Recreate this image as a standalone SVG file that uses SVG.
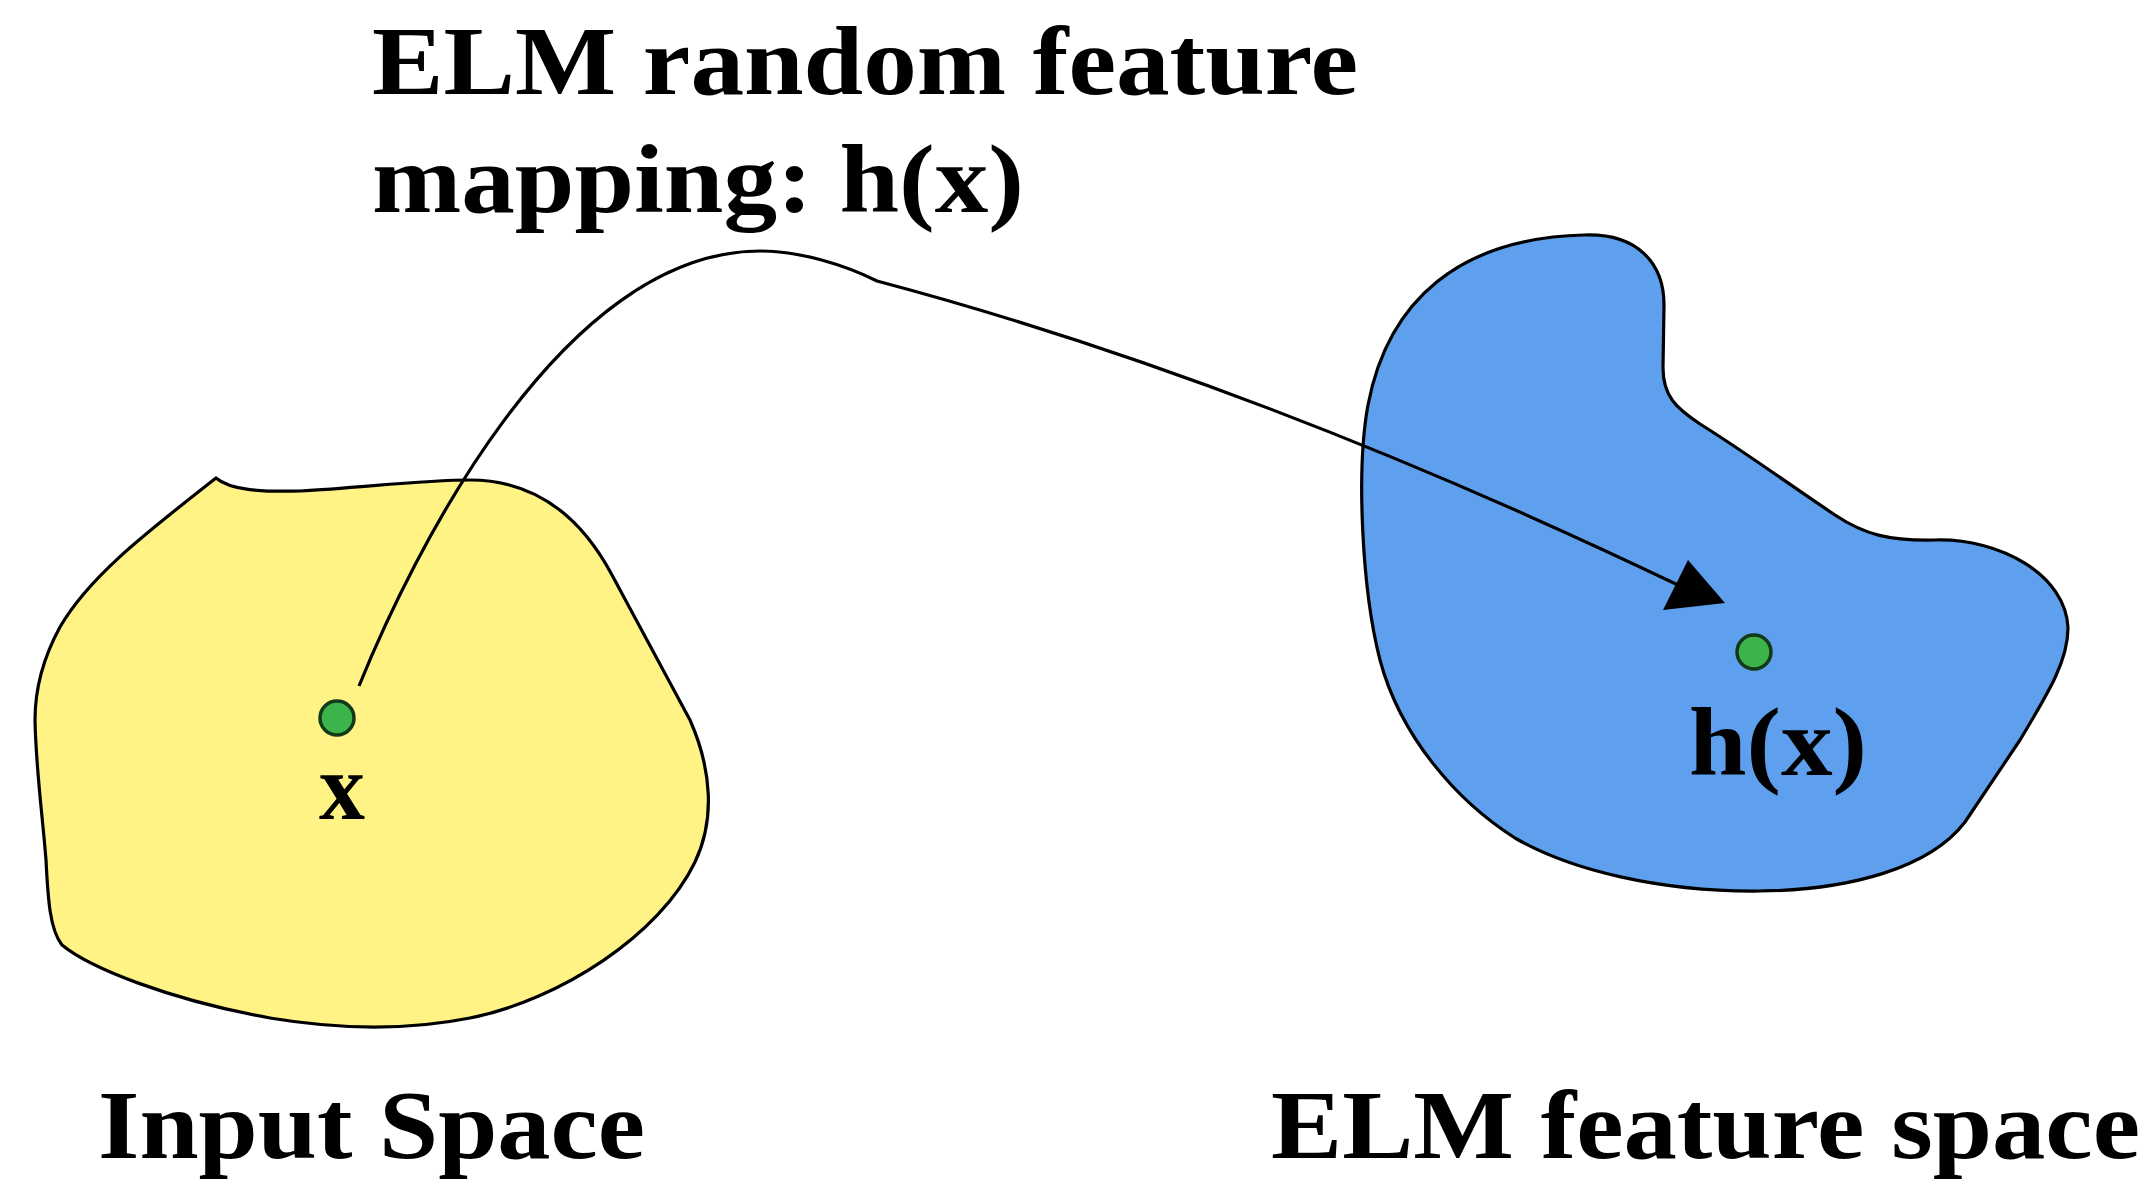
<svg xmlns="http://www.w3.org/2000/svg" width="2155" height="1198" viewBox="0 0 2155 1198">
<style>
.lbl{font-family:"Liberation Serif","Times New Roman",serif;font-weight:bold;fill:#000;}
.blob{stroke:#000;stroke-width:3.2;stroke-linejoin:round;}
.dot{fill:#3cb44b;stroke:#123a18;stroke-width:3.5;}
.conn{fill:none;stroke:#000;stroke-width:3.2;}
</style>
<rect width="2155" height="1198" fill="#fff"/>
<g id="input-space">
<path class="blob" fill="#fff385" d="M216,478 C230,490 260,492 300,491 C360,488 420,480 470,480 C535,480 580,515 612,575 L690,720 C712,770 715,820 695,862 C660,935 560,1000 470,1018 C400,1032 330,1028 270,1018 C170,1000 90,968 62,945 C50,930 48,900 46,860 C42,810 36,770 35,720 C35,690 42,660 60,627 C90,575 150,530 216,478 Z"/>
<text class="lbl" x="98" y="1158" font-size="98" textLength="547" lengthAdjust="spacingAndGlyphs">Input Space</text>
</g>
<g id="feature-space">
<path class="blob" fill="#5fa0ee" d="M1584,235 C1636,233 1664,262 1664,305 L1663,368 C1663,396 1676,408 1700,424 C1745,452 1790,485 1835,515 C1865,535 1890,541 1935,540 C2000,538 2066,575 2068,628 C2068,660 2050,690 2020,740 L1965,822 C1930,868 1850,890 1760,891 C1660,892 1570,870 1515,838 C1455,800 1400,735 1380,660 C1362,590 1356,470 1368,405 C1388,300 1460,238 1584,235 Z"/>
<text class="lbl" x="1271" y="1158" font-size="98" textLength="869" lengthAdjust="spacingAndGlyphs">ELM feature space</text>
</g>
<g id="node-x">
<circle class="dot" cx="337" cy="718" r="17"/>
<text class="lbl" x="319" y="819" font-size="96" textLength="46" lengthAdjust="spacingAndGlyphs">x</text>
</g>
<g id="node-hx">
<circle class="dot" cx="1754" cy="652" r="17"/>
<text class="lbl" x="1689" y="775" font-size="98" textLength="178" lengthAdjust="spacingAndGlyphs">h(x)</text>
</g>
<g id="connectors">
<path class="conn" d="M359,686 C410,560 560,250 761,251 C800,251 845,265 877,281 Q1250,380 1678,585"/>
<polygon points="1688,560 1663,610 1725,603" fill="#000"/>
<text class="lbl" x="372" y="94" font-size="98" textLength="986" lengthAdjust="spacingAndGlyphs">ELM random feature</text>
<text class="lbl" x="372" y="212" font-size="98" textLength="652" lengthAdjust="spacingAndGlyphs">mapping: h(x)</text>
</g>
</svg>
